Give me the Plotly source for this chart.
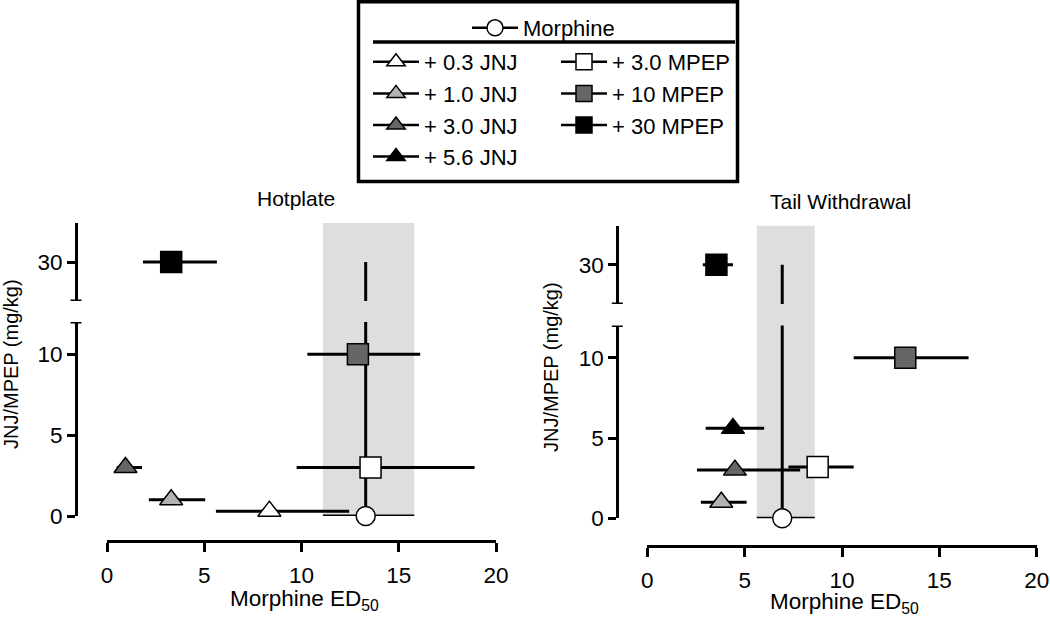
import plotly.graph_objects as go

W, H = 1050, 618
FONT = "Liberation Sans, Arial, Helvetica, sans-serif"

# ---------------- data ----------------
series_names = ["Morphine", "+ 0.3 JNJ", "+ 1.0 JNJ", "+ 3.0 JNJ", "+ 5.6 JNJ",
                "+ 3.0 MPEP", "+ 10 MPEP", "+ 30 MPEP"]
panel_titles = ["Hotplate", "Tail Withdrawal"]

# Hotplate: dose (y), ED50 (x) and confidence limits
hot_dose = [0, 0.3, 1.0, 3.0, None, 3.0, 10, 30]
hot_ed50 = [13.3, 8.35, 3.3, 0.95, None, 13.55, 12.9, 3.3]
hot_lo = [11.1, 5.6, 2.15, 0.5, None, 9.75, 10.3, 1.85]
hot_hi = [15.8, 12.45, 5.05, 1.8, None, 18.9, 16.1, 5.65]

# Tail withdrawal
tail_dose = [0, None, 1.0, 3.0, 5.6, 3.2, 10, 30]
tail_ed50 = [6.93, None, 3.8, 4.5, 4.4, 8.75, 13.25, 3.55]
tail_lo = [5.62, None, 2.75, 2.55, 3.0, 7.25, 10.6, 2.85]
tail_hi = [8.6, None, 5.1, 7.85, 6.0, 10.6, 16.5, 4.4]

x_ticks = [0, 5, 10, 15, 20]
y_ticks_low = [0, 5, 10]
y_ticks_high = [30]
y_range_low = [0, 12]
y_range_high = [27.6, 32.4]
x_range = [0, 20]

# ---------------- styles ----------------
symbols = ["circle", "triangle-up", "triangle-up", "triangle-up", "triangle-up",
           "square", "square", "square"]
fills = ["white", "white", "#b3b3b3", "#666666", "black", "white", "#666666", "black"]
sizes = [19, 20, 20, 20, 20, 21, 21, 21]
legends = ["legend", "legend2", "legend2", "legend2", "legend2",
           "legend3", "legend3", "legend3"]


def px_x(p):
    return p / W


def px_y(p):
    return 1 - p / H


panels = [
    dict(dose=hot_dose, ed=hot_ed50, lo=hot_lo, hi=hot_hi,
         xa="x", ya_low="y", ya_high="y2",
         xdom=[px_x(107), px_x(496)], xpos=px_y(541),
         ydom_low=[px_y(516), px_y(322)], ydom_high=[px_y(301), px_y(223)],
         ypos=px_x(76), title_xy=(296, 198), xt_xy=(304, 600), yt_xy=(11, 364)),
    dict(dose=tail_dose, ed=tail_ed50, lo=tail_lo, hi=tail_hi,
         xa="x2", ya_low="y3", ya_high="y4",
         xdom=[px_x(647.3), px_x(1036.7)], xpos=px_y(545.7),
         ydom_low=[px_y(518.3), px_y(325.6)], ydom_high=[px_y(304), px_y(225.7)],
         ypos=px_x(617.3), title_xy=(840, 201), xt_xy=(844, 603), yt_xy=(551, 367)),
]

fig = go.Figure()

# morphine reference vertical lines (drawn first, below markers)
for p in panels:
    m = p["ed"][0]
    for ya in (p["ya_low"], p["ya_high"]):
        fig.add_trace(go.Scatter(
            x=[m, m], y=[p["dose"][0], y_ticks_high[0]], mode="lines",
            line=dict(color="black", width=3), xaxis=p["xa"], yaxis=ya,
            showlegend=False, hoverinfo="skip"))

shown = set()
for i, name in enumerate(series_names):
    for p in panels:
        xv = p["ed"][i]
        if xv is None:
            continue
        yv = p["dose"][i]
        ya = p["ya_high"] if yv > y_range_low[1] else p["ya_low"]
        fig.add_trace(go.Scatter(
            x=[xv], y=[yv], mode="lines+markers", name=name,
            xaxis=p["xa"], yaxis=ya, legend=legends[i],
            showlegend=name not in shown,
            cliponaxis=False,
            line=dict(color="black", width=2.5),
            marker=dict(symbol=symbols[i], size=sizes[i], color=fills[i],
                        line=dict(color="black", width=1.5)),
            error_x=dict(type="data", symmetric=False,
                         array=[p["hi"][i] - xv], arrayminus=[xv - p["lo"][i]],
                         color="black", thickness=3, width=0),
        ))
        shown.add(name)

axis_common = dict(showgrid=False, zeroline=False, showline=True, linecolor="black",
                   linewidth=3, ticks="outside", tickcolor="black", tickwidth=3,
                   automargin=False,
                   tickfont=dict(family=FONT, size=22.5, color="black"), anchor="free")

layout = dict(
    width=W, height=H, margin=dict(l=0, r=0, t=0, b=0, autoexpand=False),
    paper_bgcolor="white", plot_bgcolor="rgba(0,0,0,0)",
    font=dict(family=FONT, size=22, color="black"),
)

shapes = []
annotations = []
for k, p in enumerate(panels):
    xs = "" if k == 0 else "2"
    yl = p["ya_low"].replace("y", "yaxis")
    yh = p["ya_high"].replace("y", "yaxis")
    layout["xaxis" + xs] = dict(axis_common, domain=p["xdom"], range=x_range,
                                tickvals=x_ticks, ticklen=9, position=p["xpos"],
                                ticklabelstandoff=4)
    layout[yl] = dict(axis_common, domain=p["ydom_low"], range=y_range_low,
                      tickvals=y_ticks_low, ticklen=8, position=p["ypos"])
    layout[yh] = dict(axis_common, domain=p["ydom_high"], range=y_range_high,
                      tickvals=y_ticks_high, ticklen=8, position=p["ypos"])
    # shaded morphine confidence band
    shapes.append(dict(type="rect", xref=p["xa"], yref="paper",
                       x0=p["lo"][0], x1=p["hi"][0],
                       y0=p["ydom_low"][0], y1=p["ydom_high"][1],
                       fillcolor="#dedede", line=dict(width=0), layer="below"))
    # axis break caps
    cap = 5.5 / W
    shapes.append(dict(type="line", xref="paper", yref=p["ya_low"],
                       x0=p["ypos"] - cap, x1=p["ypos"] + cap,
                       y0=y_range_low[1], y1=y_range_low[1],
                       line=dict(color="black", width=3)))
    shapes.append(dict(type="line", xref="paper", yref=p["ya_high"],
                       x0=p["ypos"] - cap, x1=p["ypos"] + cap,
                       y0=y_range_high[0], y1=y_range_high[0],
                       line=dict(color="black", width=3)))
    tx, ty = p["title_xy"]
    annotations.append(dict(text=panel_titles[k], x=px_x(tx), y=px_y(ty),
                            xref="paper", yref="paper", showarrow=False,
                            xanchor="center", yanchor="middle",
                            font=dict(family=FONT, size=21, color="black")))
    tx, ty = p["xt_xy"]
    annotations.append(dict(text="Morphine ED<sub>50</sub>", x=px_x(tx), y=px_y(ty),
                            xref="paper", yref="paper", showarrow=False,
                            xanchor="center", yanchor="middle",
                            font=dict(family=FONT, size=22.5, color="black")))
    tx, ty = p["yt_xy"]
    annotations.append(dict(text="JNJ/MPEP (mg/kg)", x=px_x(tx), y=px_y(ty),
                            xref="paper", yref="paper", showarrow=False,
                            textangle=-90, xanchor="center", yanchor="middle",
                            font=dict(family=FONT, size=20, color="black")))

# legend frame and separator
shapes.append(dict(type="rect", xref="paper", yref="paper",
                   x0=px_x(358.5), x1=px_x(737.5), y0=px_y(181.5), y1=px_y(1.75),
                   line=dict(color="black", width=3.5), fillcolor="rgba(0,0,0,0)"))
shapes.append(dict(type="line", xref="paper", yref="paper",
                   x0=px_x(373), x1=px_x(735), y0=px_y(42), y1=px_y(42),
                   line=dict(color="black", width=3.5)))

leg_common = dict(xanchor="left", yanchor="top", bgcolor="rgba(0,0,0,0)",
                  borderwidth=0, itemwidth=46, tracegroupgap=0,
                  font=dict(family=FONT, size=22, color="black"),
                  xref="paper", yref="paper")
layout["legend"] = dict(leg_common, x=px_x(467), y=px_y(7))
layout["legend2"] = dict(leg_common, x=px_x(368), y=px_y(41))
layout["legend3"] = dict(leg_common, x=px_x(556), y=px_y(41))
layout["shapes"] = shapes
layout["annotations"] = annotations

fig.update_layout(**layout)
fig.write_html("out.html", config={"displayModeBar": False},
               post_script="document.body.style.margin='0';document.body.style.overflow='hidden';")
